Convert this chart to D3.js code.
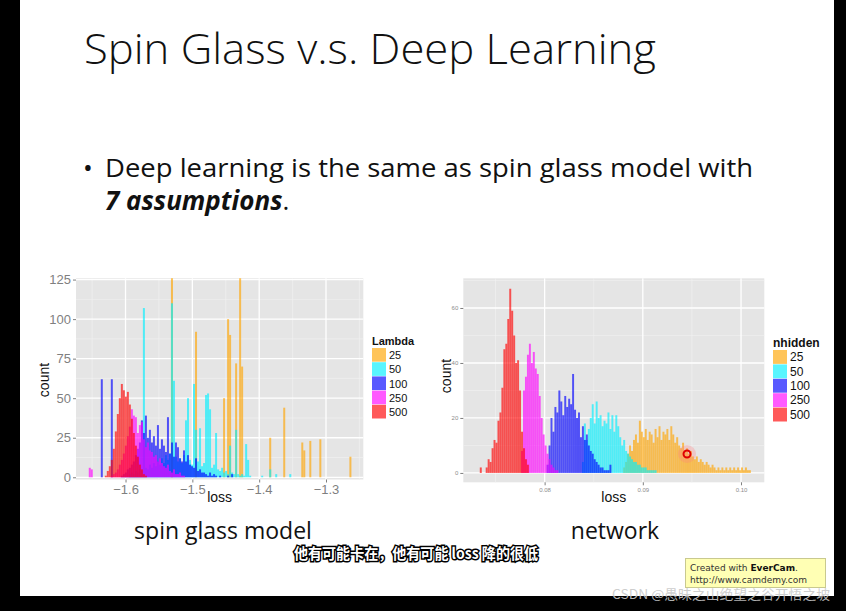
<!DOCTYPE html>
<meta charset="utf-8">
<style>
  body { margin: 0; background: #000; }
  svg { display: block; }
</style>
<body>
<script src="https://d3js.org/d3.v7.min.js"></script>
<script>
// ---- data ----
const levels = ["25", "50", "100", "250", "500"];
const levelColors = ["#ffa500", "#00f0ff", "#0000ff", "#ff00ff", "#ff0000"];

// spin glass model: bins of 0.003 on a grid starting at -1.655, first bin index per series
const spinBin = 0.003;
const spinOrigin = -1.655;
const spinFirst = [41, 20, 6, 0, 8];
const spin25 = [130,0,0,0,0,0,0,0,0,0,0,0,92,0,0,0,0,0,0,0,0,0,0,0,0,0,50,0,100,90,0,0,72,0,130,70,
  0,0,0,0,0,0,0,0,0,0,0,0,0,25,0,0,0,0,0,0,44,0,0,0,0,0,0,0,0,22,17,0,0,23,0,0,0,0,24,
  0,0,0,0,0,0,0,0,0,0,0,0,0,0,13];
const spin50 = [2,3,2,4,3,5,4,107,6,5,8,6,9,7,10,8,12,9,14,11,15,110,61,13,10,12,9,14,36,50,11,8,59,30,10,31,
  7,9,52,53,43,6,8,28,5,4,6,3,4,2,20,3,2,30,2,1,2,1,21,11,1,0,0,0,0,0,1,0,0,0,5,0,0,2,0,0,0,0,0,0,2];
const spin100 = [62,0,0,0,0,62,0,0,0,0,1,2,3,5,6,8,10,14,18,22,36,28,39,25,30,22,26,20,33,18,24,20,16,38,15,22,
  13,22,19,12,10,17,10,14,8,7,6,12,4,5,3,3,2,1,3,1,2,1,0,1,0,0,0,1,0,2];
const spin250 = [6,5,0,0,0,0,0,0,0,0,0,1,2,3,5,8,11,15,20,26,32,43,39,38,28,33,35,24,19,22,17,16,13,14,10,12,
  9,7,6,8,4,3,5,2,2,3,1,1];
const spin500 = [1,4,7,11,18,29,40,50,59,55,51,54,46,37,28,20,13,8,5,2,1];
const spinSeries = [spin25, spin50, spin100, spin250, spin500];
const spinYTicks = [0, 25, 50, 75, 100, 125];
const spinXTicks = [-1.6, -1.5, -1.4, -1.3];

// network: bins of 0.0002, start loss per series
const netBin = 0.0002;
const netStart = [0.0880, 0.0838, 0.0802, 0.0776, 0.0734];
const net25 = [2,4,7,10,8,12,14,11,19,15,13,16,12,15,14,11,16,13,17,12,15,14,16,12,17,14,11,13,10,9,11,8,9,7,8,6,
  5,6,4,5,4,3,4,3,2,3,2,1,2,1,2,1,2,1,2,1,2,1,2,1,2,1,2,1,1];
const net50 = [4,18,12,16,20,25,18,26,20,21,17,19,18,22,16,21,15,21,17,13,10,12,8,7,6,5,4,4,3,3,2,2,2,1,1,1,1,1];
const net100 = [3,10,20,15,24,22,30,26,21,28,24,27,25,36,23,20,22,13,17,12,14,10,8,7,5,4,3,2,2,1,1,1,3];
const net250 = [8,30,35,43,47,40,44,38,36,28,20,14,10,7,5,3,2,1,1];
const net500 = [2,0,0,2,5,4,9,12,11,19,22,31,45,47,56,67,59,50,40,41,30,15,9,5,3];
const netSeries = [net25, net50, net100, net250, net500];
const netYTicks = [0, 20, 40, 60];
const netXTicks = [0.08, 0.09, 0.10];

const W = 846, H = 611;
const svg = d3.select("body").append("svg").attr("width", W).attr("height", H);

// slide frame
svg.append("rect").attr("width", W).attr("height", H).attr("fill", "#000");
svg.append("rect").attr("x", 20).attr("y", 0).attr("width", 814).attr("height", 596).attr("fill", "#fff");

const slideFont = "'Open Sans', 'Noto Sans', sans-serif";
svg.append("text").attr("x", 84).attr("y", 64)
  .attr("font-family", slideFont).attr("font-weight", 300).attr("font-size", 43)
  .attr("textLength", 572).attr("lengthAdjust", "spacingAndGlyphs").attr("fill", "#111")
  .text("Spin Glass v.s. Deep Learning");

svg.append("text").attr("x", 83).attr("y", 177).attr("font-family", slideFont)
  .attr("font-size", 26).attr("fill", "#111").text("•");
svg.append("text").attr("x", 105).attr("y", 177).attr("font-family", slideFont)
  .attr("font-size", 26).attr("fill", "#111")
  .attr("textLength", 648).attr("lengthAdjust", "spacingAndGlyphs")
  .text("Deep learning is the same as spin glass model with");
const l2 = svg.append("text").attr("x", 105).attr("y", 210).attr("font-family", slideFont)
  .attr("font-size", 26).attr("fill", "#111");
l2.append("tspan").attr("font-weight", 700).attr("font-style", "italic").text("7 assumptions");
l2.append("tspan").text(".");

// ---- histogram panel ----
function panel(cfg) {
  const x = d3.scaleLinear().domain(cfg.xDomain).range([cfg.left, cfg.right]);
  const y = d3.scaleLinear().domain(cfg.yDomain).range([cfg.bottom, cfg.top]);
  const g = svg.append("g");
  const clipId = "clip" + cfg.id;
  g.append("clipPath").attr("id", clipId).append("rect")
    .attr("x", cfg.left).attr("y", cfg.top)
    .attr("width", cfg.right - cfg.left).attr("height", cfg.bottom - cfg.top);

  g.append("rect").attr("x", cfg.left).attr("y", cfg.top)
    .attr("width", cfg.right - cfg.left).attr("height", cfg.bottom - cfg.top)
    .attr("fill", "#e5e5e5");

  // minor + major grid
  g.selectAll(".gxm").data(cfg.xMinor).join("line")
    .attr("x1", d => x(d)).attr("x2", d => x(d)).attr("y1", cfg.top).attr("y2", cfg.bottom)
    .attr("stroke", "#f2f2f2").attr("stroke-width", 0.6);
  g.selectAll(".gym").data(cfg.yMinor).join("line")
    .attr("y1", d => y(d)).attr("y2", d => y(d)).attr("x1", cfg.left).attr("x2", cfg.right)
    .attr("stroke", "#f2f2f2").attr("stroke-width", 0.6);
  g.selectAll(".gx").data(cfg.xTicks).join("line")
    .attr("x1", d => x(d)).attr("x2", d => x(d)).attr("y1", cfg.top).attr("y2", cfg.bottom)
    .attr("stroke", "#fff").attr("stroke-width", 1.3);
  g.selectAll(".gy").data(cfg.yTicks).join("line")
    .attr("y1", d => y(d)).attr("y2", d => y(d)).attr("x1", cfg.left).attr("x2", cfg.right)
    .attr("stroke", "#fff").attr("stroke-width", 1.3);

  // bars, drawn 25 first so 500 ends up on top
  const bars = g.append("g").attr("clip-path", "url(#" + clipId + ")");
  cfg.series.forEach((counts, i) => {
    const rows = counts.map((c, k) => ({ lo: cfg.start(i) + k * cfg.bin, c: c })).filter(d => d.c > 0);
    bars.selectAll(null).data(rows).join("rect")
      .attr("x", d => x(d.lo))
      .attr("width", d => Math.max(0.8, x(d.lo + cfg.bin) - x(d.lo)))
      .attr("y", d => y(d.c))
      .attr("height", d => y(0) - y(d.c))
      .attr("fill", levelColors[i]).attr("fill-opacity", 0.65);
  });

  // axes
  const ax = d3.axisBottom(x).tickValues(cfg.xTicks).tickSize(3).tickPadding(2).tickFormat(cfg.xFormat);
  const ay = d3.axisLeft(y).tickValues(cfg.yTicks).tickSize(3).tickPadding(2);
  const gx = g.append("g").attr("transform", `translate(0,${cfg.bottom})`).call(ax);
  const gy = g.append("g").attr("transform", `translate(${cfg.left},0)`).call(ay);
  [gx, gy].forEach(a => {
    a.select(".domain").remove();
    a.selectAll("line").attr("stroke", "#7f7f7f");
    a.selectAll("text").attr("fill", cfg.tickColor).attr("font-size", cfg.tickSize)
      .attr("font-family", "'Liberation Sans', Arial, sans-serif");
  });

  g.append("text").attr("x", (cfg.left + cfg.right) / 2).attr("y", 502)
    .attr("text-anchor", "middle").attr("font-family", "'Liberation Sans', Arial, sans-serif")
    .attr("font-size", 14).attr("fill", "#111").text("loss");
  g.append("text").attr("transform", `translate(${cfg.yTitleX},${cfg.yTitleY}) rotate(-90)`)
    .attr("text-anchor", "middle").attr("font-family", "'Liberation Sans', Arial, sans-serif")
    .attr("font-size", 14).attr("fill", "#111").text("count");

  // legend
  const lg = g.append("g").attr("font-family", "'Liberation Sans', Arial, sans-serif");
  lg.append("text").attr("x", cfg.legX).attr("y", cfg.legY).attr("font-weight", 700)
    .attr("font-size", cfg.legTitleSize).attr("fill", "#111").text(cfg.legTitle);
  lg.selectAll(".key").data(levels).join("rect")
    .attr("x", cfg.legX).attr("y", (d, i) => cfg.legY + 3 + i * cfg.keyH)
    .attr("width", 14).attr("height", cfg.keyH - 0.5)
    .attr("fill", (d, i) => levelColors[i]).attr("fill-opacity", 0.65);
  lg.selectAll(".lab").data(levels).join("text")
    .attr("x", cfg.legX + 17).attr("y", (d, i) => cfg.legY + 3 + i * cfg.keyH + cfg.keyH / 2 + 4)
    .attr("font-size", cfg.legLabelSize).attr("fill", "#111").text(d => d);
  return { x, y };
}

panel({
  id: "spin", left: 76, right: 363.3, top: 278.3, bottom: 479.5,
  xDomain: [-1.6741, -1.2442], yDomain: [-1.4, 125.8],
  xTicks: spinXTicks, yTicks: spinYTicks,
  xMinor: [-1.65, -1.55, -1.45, -1.35, -1.25], yMinor: [12.5, 37.5, 62.5, 87.5, 112.5],
  xFormat: d => d3.format(".1f")(d).replace("-", "\u2212"),
  series: spinSeries, bin: spinBin, start: i => spinOrigin + spinFirst[i] * spinBin,
  tickColor: "#7f7f7f", tickSize: 13,
  yTitleX: 49, yTitleY: 380,
  legX: 372, legY: 345, legTitle: "Lambda", legTitleSize: 11, legLabelSize: 11, keyH: 14.2
});

const net = panel({
  id: "net", left: 463.3, right: 764.3, top: 278.3, bottom: 482.3,
  xDomain: [0.07172, 0.10237], yDomain: [-3.4, 70.8],
  xTicks: netXTicks, yTicks: netYTicks,
  xMinor: [0.075, 0.085, 0.095], yMinor: [10, 30, 50, 70],
  xFormat: d3.format(".2f"),
  series: netSeries, bin: netBin, start: i => netStart[i],
  tickColor: "#8c8c8c", tickSize: 6,
  yTitleX: 451, yTitleY: 376,
  legX: 773, legY: 347, legTitle: "nhidden", legTitleSize: 12, legLabelSize: 12, keyH: 14.4
});

// cursor highlight left on the network plot
svg.append("circle").attr("cx", net.x(0.0945)).attr("cy", 454).attr("r", 9)
  .attr("fill", "#ff8080").attr("fill-opacity", 0.3);
svg.append("circle").attr("cx", net.x(0.0945)).attr("cy", 454).attr("r", 3.5)
  .attr("fill", "none").attr("stroke", "#e00000").attr("stroke-width", 2);

// captions under the charts
svg.append("text").attr("x", 223).attr("y", 539).attr("text-anchor", "middle")
  .attr("font-family", slideFont).attr("font-size", 23).attr("fill", "#111").text("spin glass model");
svg.append("text").attr("x", 615).attr("y", 539).attr("text-anchor", "middle")
  .attr("font-family", slideFont).attr("font-size", 23).attr("fill", "#111").text("network");

// video subtitle
svg.append("text").attr("x", 294).attr("y", 559)
  .attr("font-family", "'Noto Sans CJK SC', sans-serif").attr("font-weight", 700).attr("font-size", 15)
  .attr("fill", "#fff").attr("stroke", "#000").attr("stroke-width", 3).attr("paint-order", "stroke")
  .attr("textLength", 244).attr("lengthAdjust", "spacingAndGlyphs")
  .text("他有可能卡在，他有可能 loss 降的很低");

// EverCam badge
svg.append("rect").attr("x", 685.5).attr("y", 558.5).attr("width", 140).attr("height", 29)
  .attr("fill", "#ffffb4").attr("stroke", "#c9c98f");
const ev = svg.append("text").attr("x", 690).attr("y", 571)
  .attr("font-family", "'DejaVu Sans', sans-serif").attr("font-size", 9).attr("fill", "#333");
ev.append("tspan").text("Created with ");
ev.append("tspan").attr("font-weight", 700).attr("fill", "#111").text("EverCam");
ev.append("tspan").text(".");
svg.append("text").attr("x", 690).attr("y", 583)
  .attr("font-family", "'DejaVu Sans', sans-serif").attr("font-size", 9).attr("fill", "#333")
  .text("http://www.camdemy.com");

// watermark
svg.append("text").attr("x", 612).attr("y", 599)
  .attr("font-family", "'Noto Sans CJK SC', sans-serif").attr("font-size", 13)
  .attr("fill", "#c8c8c8").attr("fill-opacity", 0.9)
  .attr("textLength", 218).attr("lengthAdjust", "spacingAndGlyphs")
  .text("CSDN @愚昧之山绝望之谷开悟之坡");
</script>
</body>
